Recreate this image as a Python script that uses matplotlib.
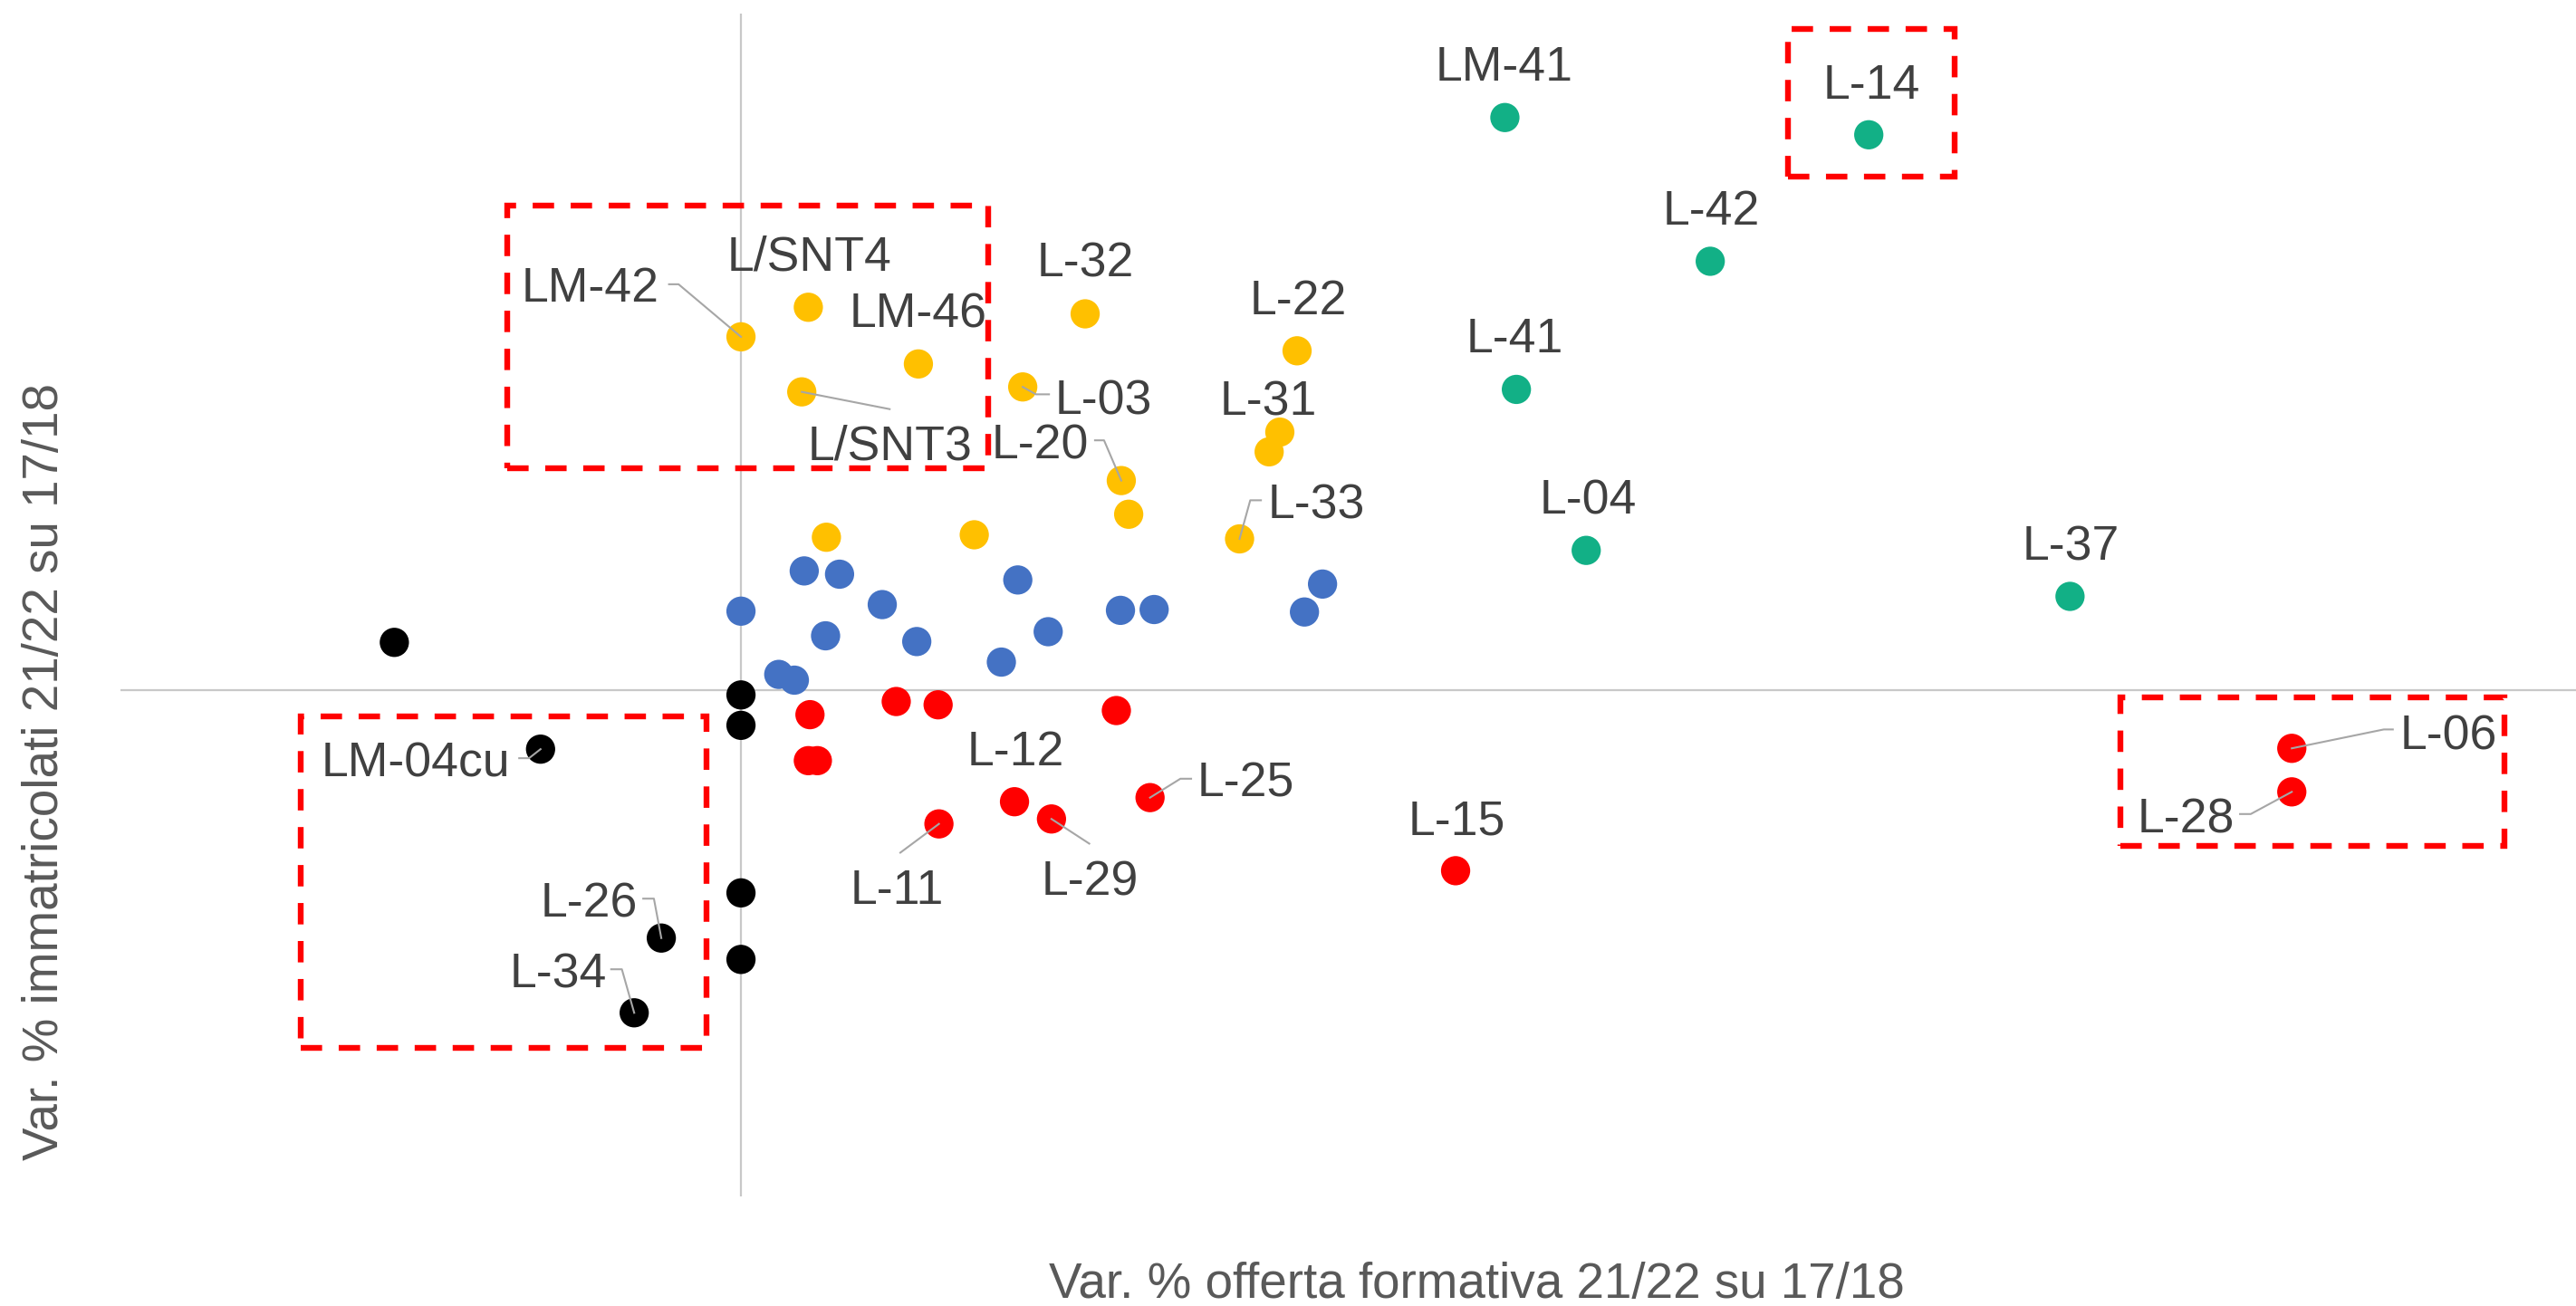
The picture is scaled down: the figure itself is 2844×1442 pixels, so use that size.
import matplotlib
matplotlib.use("Agg")
import matplotlib.pyplot as plt
from matplotlib.patches import Rectangle

plt.rcParams["font.family"] = ["Liberation Sans", "DejaVu Sans"]

# --- data: var. % offerta formativa (x) vs var. % immatricolati (y) ---
green_labels = ["LM-41", "L-14", "L-42", "L-41", "L-04", "L-37"]
green_x = [93.0, 137.3, 118.0, 94.4, 102.9, 161.8]
green_y = [69.7, 67.6, 52.2, 36.6, 17.0, 11.4]

yellow_labels = ["LM-42", "L/SNT4", "LM-46", "L/SNT3", "L-03", "L-32", "L-22",
                 "L-31", "", "L-20", "", "L-33", "", ""]
yellow_x = [0.0, 8.2, 21.6, 7.4, 34.3, 41.9, 67.7, 65.6, 64.3, 46.3, 47.2, 60.7, 10.4, 28.4]
yellow_y = [43.0, 46.6, 39.7, 36.3, 36.9, 45.8, 41.3, 31.4, 29.0, 25.5, 21.4, 18.4, 18.6, 18.9]

blue_x = [7.7, 12.0, 0.0, 17.2, 10.3, 21.4, 33.7, 37.4, 31.7, 4.6, 6.5, 46.2, 50.3, 70.8, 68.6]
blue_y = [14.5, 14.1, 9.6, 10.4, 6.6, 5.9, 13.4, 7.1, 3.4, 1.9, 1.2, 9.7, 9.8, 12.9, 9.5]

black_labels = ["", "", "", "", "L-26", "L-34", "LM-04cu", ""]
black_x = [0.0, 0.0, 0.0, 0.0, -9.7, -13.0, -24.4, -42.2]
black_y = [-0.6, -4.3, -24.7, -32.8, -30.2, -39.3, -7.2, 5.8]

red_labels = ["", "", "", "", "", "", "L-11", "L-12", "L-29", "L-25", "L-15", "L-06", "L-28"]
red_x = [8.4, 18.9, 24.0, 45.7, 8.2, 9.3, 24.1, 33.3, 37.8, 49.8, 87.0, 188.8, 188.8]
red_y = [-3.0, -1.4, -1.8, -2.5, -8.6, -8.6, -16.3, -13.6, -15.7, -13.1, -22.0, -7.1, -12.4]

# label text positions (centre x, baseline y)
label_pos = {
    "LM-41": (92.9, 74.2), "L-14": (137.6, 72.0), "L-42": (118.1, 56.7),
    "L-41": (94.2, 41.1), "L-04": (103.1, 21.4), "L-37": (161.9, 15.8),
    "L-22": (67.8, 45.8), "L-31": (64.2, 33.4), "L-33": (70.1, 20.9),
    "L/SNT4": (8.3, 51.1), "LM-42": (-18.3, 47.3), "LM-46": (21.6, 44.1),
    "L/SNT3": (18.1, 28.1), "L-32": (41.9, 50.3), "L-03": (44.1, 33.6),
    "L-20": (36.4, 28.2), "L-12": (33.4, -9.2), "L-25": (61.5, -13.0),
    "L-11": (19.0, -26.0), "L-29": (42.5, -25.0), "L-15": (87.1, -17.6),
    "L-06": (207.9, -7.2), "L-28": (175.9, -17.4), "LM-04cu": (-39.6, -10.5),
    "L-26": (-18.5, -27.6), "L-34": (-22.3, -36.2),
}
# leader line vertices (from point outwards)
leaders = {
    "LM-42": [(-7.6, 49.4), (-8.76, 49.4)],
    "L/SNT3": [(18.1, 34.2)],
    "L-03": [(35.9, 36.0), (37.5, 36.0)],
    "L-20": [(44.2, 30.4), (43.1, 30.4)],
    "L-33": [(62.0, 23.1), (63.3, 23.1)],
    "L-11": [(19.4, -19.8)],
    "L-29": [(42.4, -18.7)],
    "L-25": [(53.5, -10.8), (54.8, -10.8)],
    "L-26": [(-10.6, -25.4), (-11.9, -25.4)],
    "L-34": [(-14.5, -34.0), (-15.8, -34.0)],
    "LM-04cu": [(-25.8, -8.3), (-27.0, -8.3)],
    "L-06": [(200.0, -4.8), (201.1, -4.8)],
    "L-28": [(183.8, -15.1), (182.5, -15.1)],
}
# highlighted areas (x0, x1, y0, y1)
boxes = [(-28.5, 30.1, 27.0, 59.0), (-53.6, -4.2, -43.6, -3.2),
         (127.5, 147.8, 62.5, 80.5), (167.9, 214.7, -19.0, -0.9)]

fig = plt.figure(figsize=(14.22, 7.21), dpi=200)
ax = fig.add_axes([0.0469, 0.0840, 0.9531, 0.9055])
ax.set_xlim(-75.5, 223.4)
ax.set_ylim(-61.64, 82.34)
for s in ax.spines.values():
    s.set_visible(False)
ax.set_xticks([])
ax.set_yticks([])
ax.axhline(0, color="#c8c8c8", lw=0.8, zorder=1)
ax.axvline(0, color="#c8c8c8", lw=0.8, zorder=1)

series = [
    (blue_x, blue_y, [""] * len(blue_x), "#4472C4"),
    (yellow_x, yellow_y, yellow_labels, "#FFC000"),
    (green_x, green_y, green_labels, "#12B086"),
    (red_x, red_y, red_labels, "#FF0000"),
    (black_x, black_y, black_labels, "#000000"),
]
for xs, ys, labs, col in series:
    ax.scatter(xs, ys, s=135, color=col, edgecolors="none", zorder=3)
    for x, y, lab in zip(xs, ys, labs):
        if not lab:
            continue
        tx, ty = label_pos[lab]
        ax.text(tx, ty, lab, ha="center", va="baseline", fontsize=19.3,
                color="#404040", zorder=5)
        if lab in leaders:
            pts = [(x, y)] + leaders[lab]
            ax.plot([p[0] for p in pts], [p[1] for p in pts],
                    color="#A6A6A6", lw=0.75, zorder=4)

lw = 2.3
for x0, x1, y0, y1 in boxes:
    ax.add_patch(Rectangle((x0, y0), x1 - x0, y1 - y0, fill=False,
                           edgecolor="#FF0000", lw=lw,
                           linestyle=(0, (8.5 / lw, 6.6 / lw)), zorder=2))

fig.text(0.5733, 0.0063, "Var. % offerta formativa 21/22 su 17/18",
         ha="center", va="baseline", fontsize=19.7, color="#595959")
fig.text(0.0175, 0.409, "Var. % immatricolati 21/22 su 17/18", rotation=90,
         ha="center", va="center", fontsize=19.7, color="#595959")

fig.savefig("out.png", dpi=200)
